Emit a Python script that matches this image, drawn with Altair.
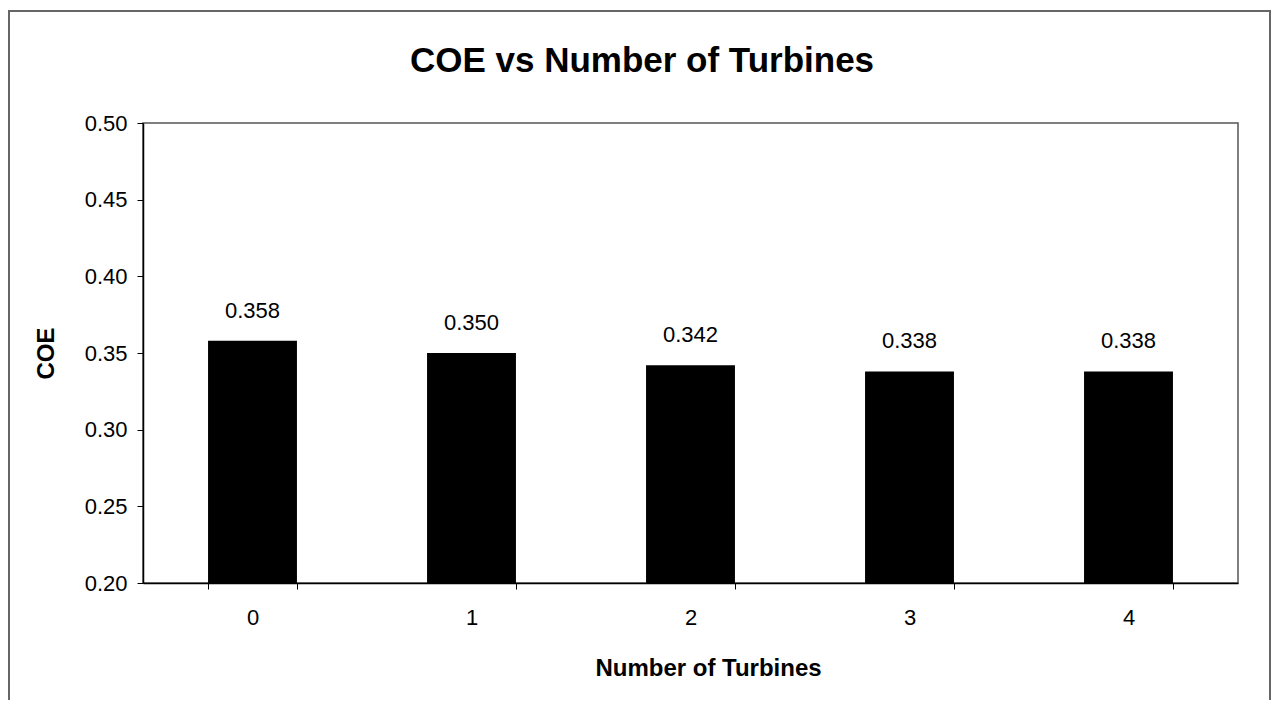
import altair as alt
import pandas as pd

# ---- data ----
turbines = ["0", "1", "2", "3", "4"]
coe = [0.358, 0.350, 0.342, 0.338, 0.338]
y_ticks = [0.20, 0.25, 0.30, 0.35, 0.40, 0.45, 0.50]
chart_title = "COE vs Number of Turbines"

df = pd.DataFrame({"turbines": turbines, "coe": coe})
FONT = "Liberation Sans"

x_enc = alt.X(
    "turbines:N",
    title="Number of Turbines",
    sort=turbines,
    scale=alt.Scale(paddingInner=0.594, paddingOuter=0.297),
    axis=alt.Axis(
        labelAngle=0,
        tickBand="extent",
        labelFont=FONT,
        labelFontSize=22,
        labelColor="black",
        labelPadding=18,
        tickSize=6,
        tickColor="black",
        domainColor="black",
        domainWidth=1.5,
        titleFont=FONT,
        titleFontSize=24,
        titleFontWeight="bold",
        titleColor="black",
        titlePadding=28,
        titleX=565,
    ),
)

y_enc = alt.Y(
    "coe:Q",
    title="COE",
    scale=alt.Scale(domain=[0.2, 0.5], zero=False, nice=False),
    axis=alt.Axis(
        values=y_ticks,
        format=".2f",
        grid=False,
        labelFont=FONT,
        labelFontSize=22,
        labelColor="black",
        labelPadding=10,
        tickSize=6,
        tickColor="black",
        domainColor="black",
        domainWidth=1.5,
        titleFont=FONT,
        titleFontSize=24,
        titleFontWeight="bold",
        titleColor="black",
        titlePadding=26,
    ),
)

bars = alt.Chart(df).mark_bar(color="black").encode(
    x=x_enc, y=y_enc, y2=alt.datum(0.2)
)

labels = alt.Chart(df).mark_text(
    baseline="alphabetic", dy=-23, fontSize=22, font=FONT, color="black"
).encode(
    x=x_enc, y=y_enc, text=alt.Text("coe:Q", format=".3f")
)

title_df = pd.DataFrame({"t": [chart_title]})
title_mark = alt.Chart(title_df).mark_text(
    font=FONT, fontSize=35, fontWeight="bold", color="black",
    align="center", baseline="alphabetic", clip=False
).encode(
    x=alt.value(499), y=alt.value(-51), text="t:N"
)

frame = alt.Chart(pd.DataFrame({"k": [0]})).mark_rect(
    filled=False, stroke="#666666", strokeWidth=2, clip=False
).encode(
    x=alt.value(-134), x2=alt.value(1127), y=alt.value(-112), y2=alt.value(620)
)

chart = (
    alt.layer(bars, labels, title_mark, frame)
    .properties(
        width=1095,
        height=460,
        autosize=alt.AutoSizeParams(type="none"),
        padding={"left": 135, "top": 115, "right": 33, "bottom": 117},
        background="white",
    )
    .configure_view(stroke="#555555", strokeWidth=1.5)
)

chart.save("out.html", embed_options={"renderer": "svg", "actions": False})
